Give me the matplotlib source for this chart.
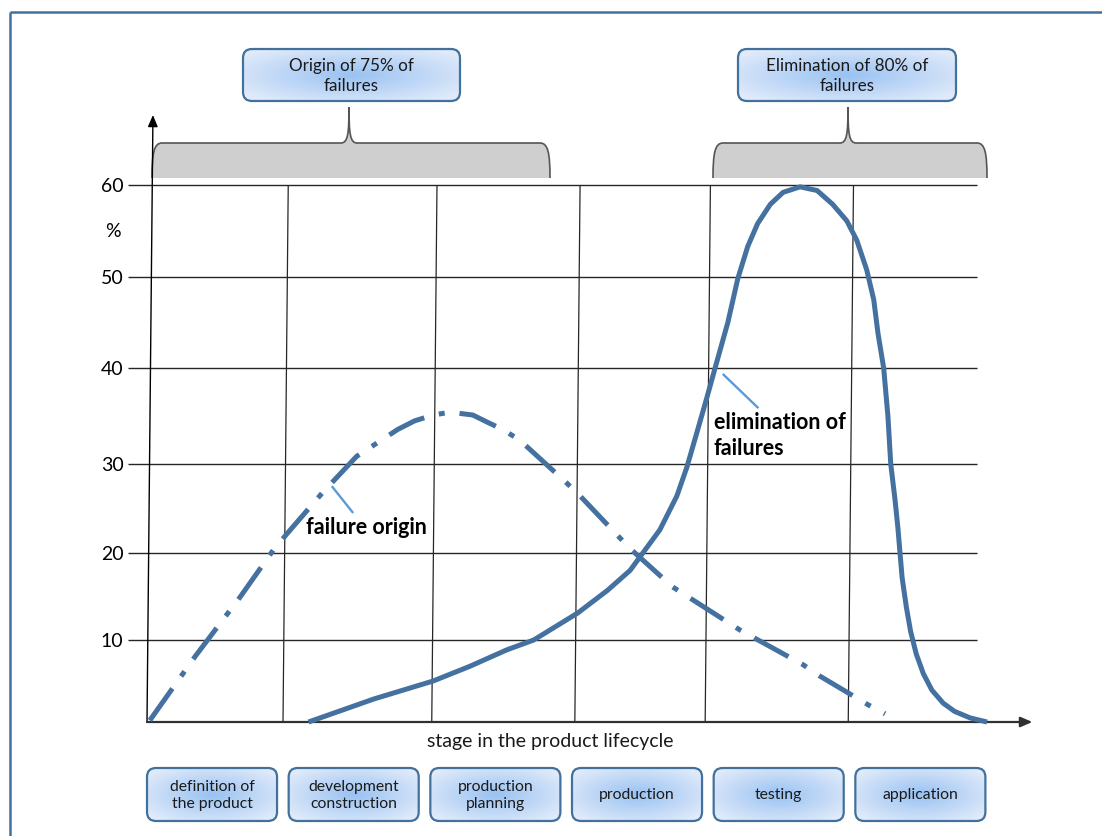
import numpy as np
import matplotlib
matplotlib.use("Agg")
import matplotlib.pyplot as plt
from matplotlib.patches import FancyBboxPatch, PathPatch
from matplotlib.path import Path

# --- data ------------------------------------------------------------------
# x is the position along the lifecycle in stage widths (0 = start of stage 1)
ORIGIN_X = [0.02, 0.34, 0.66, 0.89, 0.99, 1.24, 1.48, 1.77, 1.89, 2.02, 2.14,
            2.30, 2.41, 2.51, 2.63, 2.94, 3.04, 3.32, 3.41, 3.71, 3.95, 4.19,
            4.28, 4.63, 4.75, 5.09, 5.21]
ORIGIN_Y = [0.2, 8.0, 15.0, 20.3, 22.2, 26.8, 30.8, 33.6, 34.5, 35.1, 35.4,
            35.1, 34.3, 33.6, 32.5, 28.2, 26.7, 22.0, 20.5, 16.1, 13.6, 11.1,
            10.3, 7.0, 5.6, 2.1, 1.0]

ELIM_X = [1.14, 1.60, 2.02, 2.28, 2.54, 2.73, 3.04, 3.25, 3.41, 3.50, 3.62,
          3.74, 3.81, 3.88, 3.95, 4.01, 4.10, 4.17, 4.24, 4.31, 4.40, 4.49,
          4.61, 4.73, 4.84, 4.94, 5.01, 5.08, 5.13, 5.16, 5.20, 5.23, 5.25,
          5.28, 5.30, 5.33, 5.36, 5.39, 5.43, 5.48, 5.54, 5.62, 5.70, 5.81,
          5.93]
ELIM_Y = [0.0, 2.8, 5.0, 6.8, 8.8, 10.0, 13.1, 15.7, 18.0, 20.0, 22.6,
          26.4, 29.6, 33.2, 36.8, 40.0, 45.0, 49.8, 53.3, 55.8, 57.9, 59.2,
          59.8, 59.4, 57.9, 56.1, 54.0, 50.8, 47.5, 43.8, 40.0, 35.0, 30.0,
          26.0, 22.9, 17.2, 13.8, 11.0, 8.3, 5.9, 3.9, 2.3, 1.3, 0.5, 0.0]

PCT_TICKS = [10, 20, 30, 40, 50, 60]
STAGES = ["definition of\nthe product", "development\nconstruction",
          "production\nplanning", "production", "testing", "application"]
CALLOUTS = ["Origin of 75% of\nfailures", "Elimination of 80% of\nfailures"]

# the grid was drawn by hand: rows are not evenly spaced (pixel rows)
GRID_VALUES = [0, 10, 20, 30, 40, 50, 60]
GRID_ROWS = [722, 640, 553, 464, 368, 277, 185]
GRID_COLS = [0.96, 2.01, 3.02, 3.94, 4.95]

W, H = 1102, 836
LINE = "#44719f"
EDGE = "#41719c"
FONT = ["Lato", "DejaVu Sans"]
plt.rcParams["font.family"] = FONT

fig = plt.figure(figsize=(W / 100, H / 100), dpi=100)
ov = fig.add_axes([0, 0, 1, 1])
ov.axis("off")
ax = fig.add_axes([147 / W, 1 - 722 / H, 850 / W, 537 / H])
ax.patch.set_visible(False)

# uneven y grid -> piecewise linear scale
pos = [722 - r for r in GRID_ROWS]
ext_v = [-100] + GRID_VALUES + [200]
ext_p = [pos[0] - 100 * 8.2] + pos + [pos[-1] + 140 * 9.2]
ax.set_yscale("function", functions=(lambda v: np.interp(v, ext_v, ext_p),
                                     lambda p: np.interp(p, ext_p, ext_v)))
ax.set_xlim(0, 6)
ax.set_ylim(0, 60)
for s in ax.spines.values():
    s.set_visible(False)
ax.set_xticks([])
ax.set_yticks(PCT_TICKS)
ax.set_yticklabels([str(t) for t in PCT_TICKS], fontsize=14)
ax.tick_params(axis="y", length=0, pad=17)
ax.text(-0.24, 54.9, "%", fontsize=14, ha="center", va="center")

# grid
ax.hlines(PCT_TICKS, -0.134, 5.86, colors="#262626", lw=1.0, clip_on=False)
for xc in GRID_COLS:
    ax.plot([xc, xc + 0.037], [0, 60], color="#262626", lw=0.9)

# axes with arrow heads
ax.annotate("", xy=(0.042, 67.6), xytext=(0, 0), annotation_clip=False,
            arrowprops=dict(arrowstyle="-|>,head_length=0.7,head_width=0.3",
                            color="black", lw=1.0, shrinkA=0, shrinkB=0))
ax.annotate("", xy=(6.25, 0), xytext=(0, 0), annotation_clip=False,
            arrowprops=dict(arrowstyle="-|>,head_length=0.7,head_width=0.3",
                            color="#303030", lw=1.6, shrinkA=0, shrinkB=0))

# curves
ax.plot(ORIGIN_X, ORIGIN_Y, color=LINE, lw=3.6, dashes=(7.8, 3.0, 1.2, 3.0),
        dash_capstyle="butt", dash_joinstyle="round", clip_on=False, zorder=4)
ax.plot(ELIM_X, ELIM_Y, color=LINE, lw=3.6, solid_joinstyle="round",
        solid_capstyle="butt", clip_on=False, zorder=4)

# curve labels
ax.plot([1.31, 1.45], [27.4, 24.6], color="#5b9bd5", lw=1.7)
ax.text(1.12, 22.9, "failure origin", fontsize=15.5, fontweight="bold",
        ha="left", va="center")
ax.plot([4.07, 4.31], [39.3, 35.9], color="#5b9bd5", lw=1.7)
ax.text(4.0, 33.0, "elimination of\nfailures", fontsize=15.5, fontweight="bold",
        ha="left", va="center", linespacing=1.3)

# --- decorations in pixel space -------------------------------------------
C_MID = np.array([0.60, 0.76, 0.95])
C_EDGE = np.array([0.88, 0.92, 0.98])


def gradient_box(x0, y0, w, h, text, fs):
    patch = FancyBboxPatch((x0, y0), w, h,
                           boxstyle="round,pad=0,rounding_size=9",
                           fc="none", ec=EDGE, lw=1.6, zorder=3)
    ov.add_patch(patch)
    gy, gx = np.mgrid[-1:1:60j, -1:1:180j]
    r = np.clip(np.sqrt(gx ** 2 + gy ** 2) / 1.25, 0, 1)[..., None]
    img = C_MID * (1 - r) + C_EDGE * r
    im = ov.imshow(img, extent=(x0, x0 + w, y0 + h, y0), aspect="auto",
                   interpolation="bilinear", zorder=2)
    im.set_clip_path(patch)
    ov.text(x0 + w / 2, y0 + h / 2 + 1, text, ha="center", va="center",
            fontsize=fs, color="#1a1a1a", linespacing=1.3, zorder=4)


def bracket(x0, x1, xs, ytop=143, ybot=178, ytip=107):
    verts = [(x0, ybot),
             (x0, ytop + 10), (x0 + 2, ytop), (x0 + 10, ytop),
             (xs - 8, ytop),
             (xs - 1, ytop), (xs, ytop - 10), (xs, ytip),
             (xs, ytop - 10), (xs + 1, ytop), (xs + 8, ytop),
             (x1 - 10, ytop),
             (x1 - 2, ytop), (x1, ytop + 10), (x1, ybot)]
    codes = ([Path.MOVETO] + [Path.CURVE4] * 3 + [Path.LINETO]
             + [Path.CURVE4] * 6 + [Path.LINETO] + [Path.CURVE4] * 3)
    ov.add_patch(PathPatch(Path(verts + [(x0, ybot)], codes + [Path.LINETO]),
                           fc="#d0cfcf", ec="none", zorder=2))
    ov.add_patch(PathPatch(Path(verts, codes), fc="none", ec="#555555",
                           lw=1.2, zorder=3))


bracket(152, 550, 349)
bracket(713, 987, 848)
gradient_box(243, 49, 217, 52, CALLOUTS[0], 12.3)
gradient_box(738, 49, 218, 52, CALLOUTS[1], 12.3)

# stage boxes aligned with the lifecycle axis
for i, name in enumerate(STAGES):
    left = ax.transData.transform((i, 0))[0]
    right = ax.transData.transform((i + 0.918, 0))[0]
    gradient_box(left, 768, right - left, 53, name, 11.3)

ov.text(550, 741, "stage in the product lifecycle", ha="center", va="center",
        fontsize=14, color="#1a1a1a")

# outer frame
ov.plot([10, 10], [H + 5, 12], color=EDGE, lw=1.8, solid_capstyle="butt")
ov.plot([10, W + 5], [12, 12], color=EDGE, lw=1.8, solid_capstyle="butt")

ov.set_xlim(0, W)
ov.set_ylim(H, 0)

fig.savefig("out.png", dpi=100)
